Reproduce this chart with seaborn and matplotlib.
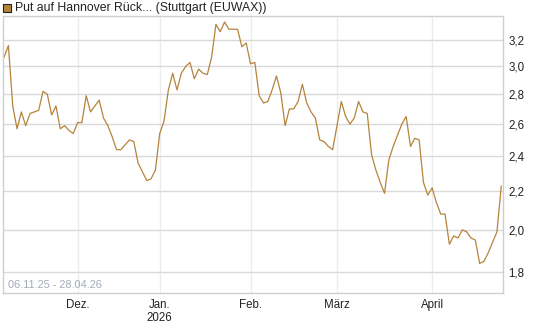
import pandas as pd
import numpy as np
import matplotlib
matplotlib.use('Agg')
import matplotlib.pyplot as plt
from matplotlib.ticker import FixedLocator, FuncFormatter, NullLocator
from matplotlib.patches import Rectangle
import seaborn as sns

# trading days of the put warrant (Stuttgart / EUWAX)
holidays = ['2025-12-24', '2025-12-25', '2025-12-26', '2025-12-31',
            '2026-01-01', '2026-04-03', '2026-04-06']
dates = pd.bdate_range('2025-11-06', '2026-04-27', freq='C', holidays=holidays)

prices = [3.07, 3.16, 2.72, 2.57, 2.68, 2.59, 2.67, 2.68, 2.69, 2.82,
          2.80, 2.66, 2.72, 2.57, 2.59, 2.56, 2.54, 2.61, 2.61, 2.79,
          2.68, 2.72, 2.76, 2.64, 2.59, 2.52, 2.44, 2.44, 2.47, 2.50,
          2.49, 2.36, 2.31, 2.26, 2.27, 2.32, 2.54, 2.62, 2.83, 2.95,
          2.83, 2.95, 3.00, 3.03, 2.91, 2.98, 2.95, 2.94, 3.07, 3.33,
          3.27, 3.35, 3.29, 3.29, 3.29, 3.15, 3.18, 3.02, 3.03, 2.79,
          2.74, 2.75, 2.83, 2.93, 2.81, 2.59, 2.70, 2.70, 2.75, 2.87,
          2.74, 2.68, 2.64, 2.50, 2.49, 2.46, 2.44, 2.59, 2.75, 2.65,
          2.60, 2.64, 2.75, 2.68, 2.67, 2.41, 2.32, 2.25, 2.19, 2.38,
          2.46, 2.53, 2.60, 2.65, 2.46, 2.51, 2.50, 2.25, 2.18, 2.22,
          2.14, 2.08, 2.08, 1.93, 1.97, 1.96, 2.00, 1.99, 1.96, 1.95,
          1.84, 1.85, 1.89, 1.94, 1.99, 2.23]

y_ticks = [1.8, 2.0, 2.2, 2.4, 2.6, 2.8, 3.0, 3.2]
month_names = {12: 'Dez.', 1: 'Jan.\n2026', 2: 'Feb.', 3: 'März', 4: 'April'}
legend_text = 'Put auf Hannover Rück... (Stuttgart (EUWAX))'
range_text = '06.11.25 - 28.04.26'

df = pd.DataFrame({'date': dates[:len(prices)], 'price': prices})
df['pos'] = np.arange(len(df))

# first trading day of each month -> tick
firsts = df.groupby([df.date.dt.year, df.date.dt.month]).pos.min()
tick_pos, tick_lab = [], []
for (yr, mo), p in firsts.items():
    if mo in month_names and p > 0:
        tick_pos.append(p)
        tick_lab.append(month_names[mo])

sns.set_style('white')
plt.rcParams['font.family'] = ['Liberation Sans', 'DejaVu Sans']

line_c = '#b5843b'
fig = plt.figure(figsize=(5.45, 3.27), dpi=100)
ax = fig.add_axes([3 / 545, 1 - 293 / 327, 500 / 545, 277 / 327])

sns.lineplot(data=df, x='pos', y='price', color=line_c, linewidth=0.9, ax=ax)

ax.set_yscale('log')
ax.set_ylim(1.71, 3.40)
ax.set_xlim(-0.25, 115.4)
ax.yaxis.set_major_locator(FixedLocator(y_ticks))
ax.yaxis.set_minor_locator(NullLocator())
ax.yaxis.set_major_formatter(FuncFormatter(lambda v, _: ('%.1f' % v).replace('.', ',')))
ax.yaxis.tick_right()
ax.set_xticks(tick_pos)
ax.set_xticklabels(tick_lab)
ax.tick_params(axis='y', length=0, pad=4, labelsize=8.3, labelcolor='#222222')
ax.tick_params(axis='x', length=0, pad=4, labelsize=8.3, labelcolor='#222222')
ax.set_xlabel('')
ax.set_ylabel('')

ax.grid(axis='y', color='#d9d9d9', linewidth=1)
ax.grid(axis='x', color='#ececec', linewidth=1)
ax.set_axisbelow(True)
for s in ax.spines.values():
    s.set_color('#cfcfcf')
    s.set_linewidth(1)

ax.text(0.01, 0.012, range_text, transform=ax.transAxes, fontsize=7.9,
        color='#a3abb8', ha='left', va='bottom')

# legend marker and label above the plot
fig.patches.append(Rectangle((3 / 545, 1 - 12 / 327), 8 / 545, 8 / 327,
                             transform=fig.transFigure, facecolor=line_c,
                             edgecolor='#222222', linewidth=0.8))
fig.text(15 / 545, 1 - 8 / 327, legend_text, fontsize=8.8, color='#222222',
         ha='left', va='center')

fig.savefig('out.png', dpi=100)
